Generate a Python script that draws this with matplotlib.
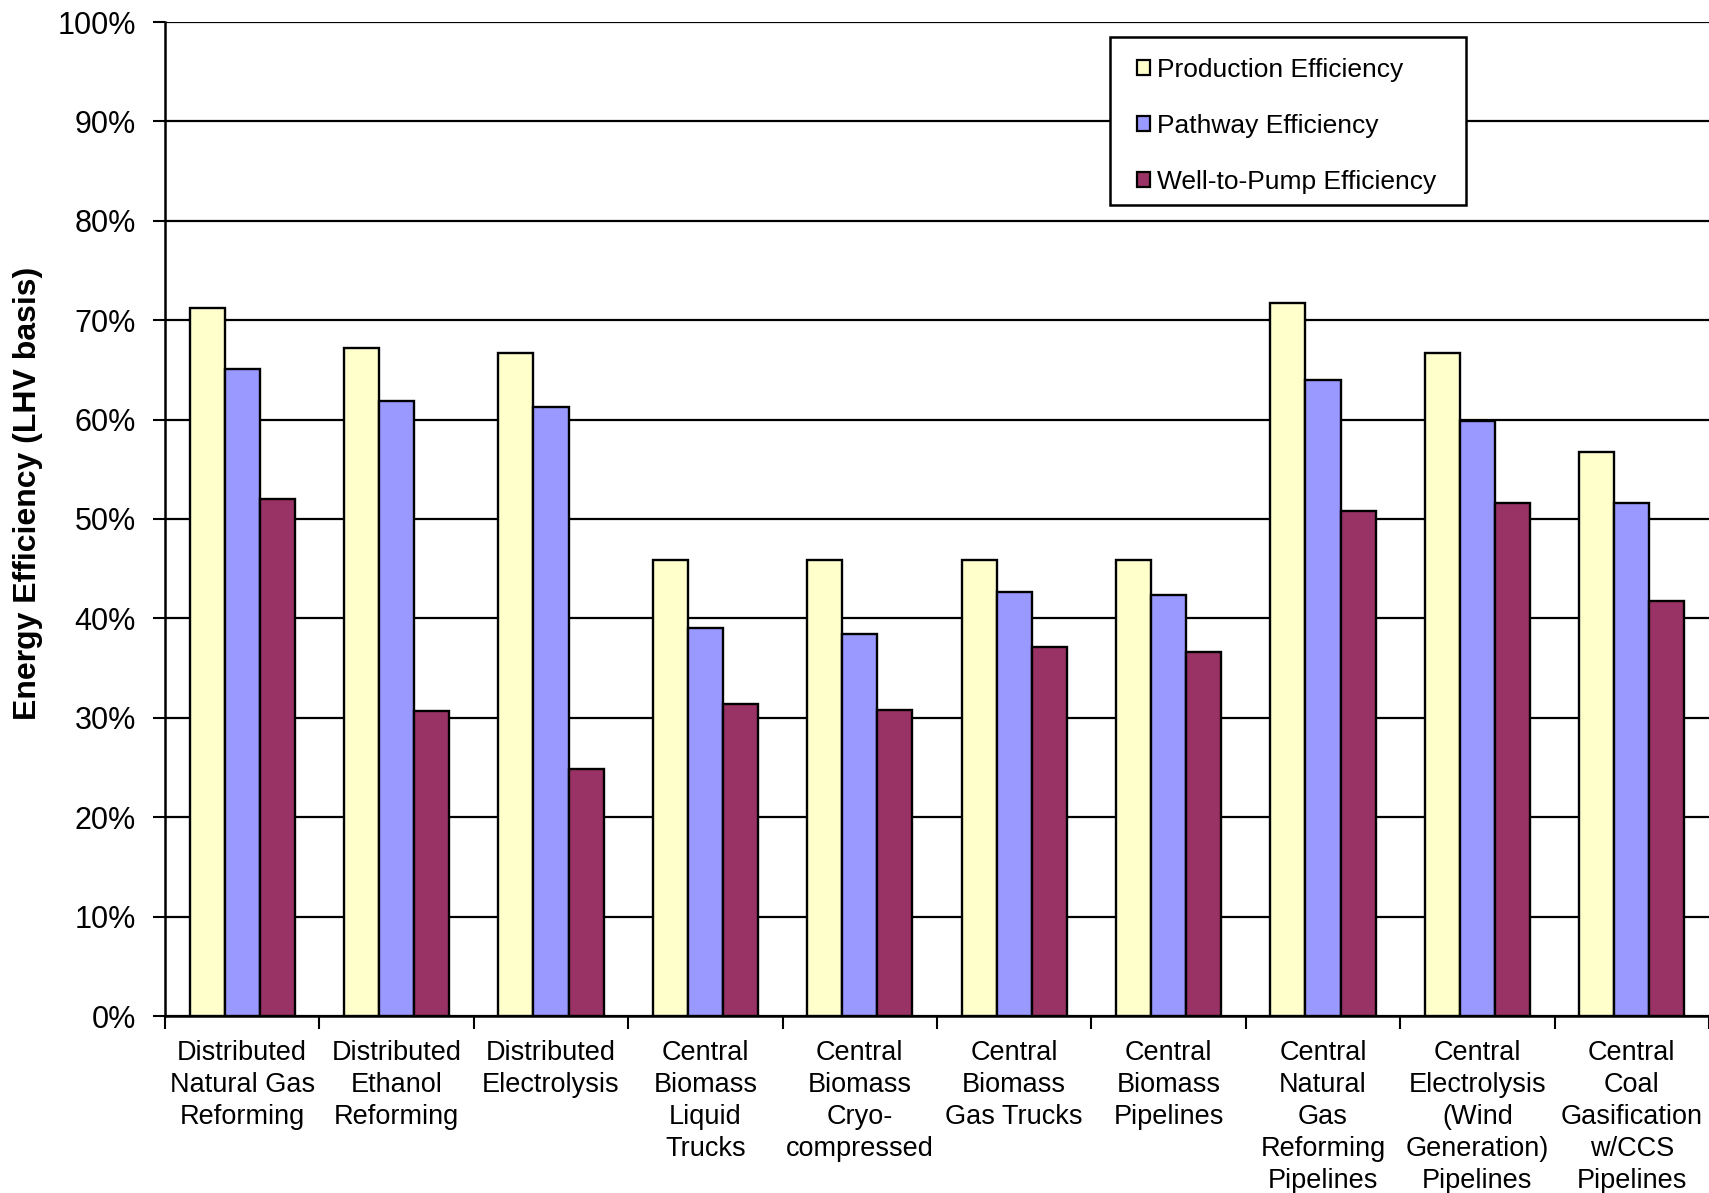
import matplotlib
matplotlib.use("Agg")
import matplotlib.pyplot as plt
import numpy as np
from matplotlib.patches import Rectangle
from matplotlib.ticker import MultipleLocator, FuncFormatter

plt.rcParams['font.family'] = ['Liberation Sans', 'DejaVu Sans']

categories = [
    "Distributed\nNatural Gas\nReforming",
    "Distributed\nEthanol\nReforming",
    "Distributed\nElectrolysis",
    "Central\nBiomass\nLiquid\nTrucks",
    "Central\nBiomass\nCryo-\ncompressed",
    "Central\nBiomass\nGas Trucks",
    "Central\nBiomass\nPipelines",
    "Central\nNatural\nGas\nReforming\nPipelines",
    "Central\nElectrolysis\n(Wind\nGeneration)\nPipelines",
    "Central\nCoal\nGasification\nw/CCS\nPipelines",
]

production_eff = [71.2, 67.2, 66.7, 45.9, 45.9, 45.9, 45.9, 71.7, 66.7, 56.7]
pathway_eff = [65.1, 61.9, 61.3, 39.0, 38.4, 42.7, 42.4, 64.0, 59.9, 51.6]
well_to_pump_eff = [52.0, 30.7, 24.8, 31.4, 30.8, 37.1, 36.6, 50.8, 51.6, 41.8]

series_names = ["Production Efficiency", "Pathway Efficiency", "Well-to-Pump Efficiency"]
series_colors = ["#FFFFCC", "#9999FF", "#993366"]

W, H = 1709, 1193
fig = plt.figure(figsize=(W / 100, H / 100), dpi=100)
ax = fig.add_axes([165 / W, (H - 1016) / H, (W - 165) / W, (1016 - 22) / H])

x = np.arange(len(categories))
bw = 0.227
for k, (vals, name, col) in enumerate(zip([production_eff, pathway_eff, well_to_pump_eff],
                                          series_names, series_colors)):
    ax.bar(x + (k - 1) * bw, vals, width=bw, color=col, edgecolor="black",
           linewidth=1.7, label=name, zorder=3)

ax.set_xlim(-0.5, len(categories) - 0.5)
ax.set_ylim(0, 100)

# y axis
ax.yaxis.set_major_locator(MultipleLocator(10))
ax.yaxis.set_major_formatter(FuncFormatter(lambda v, p: f"{int(round(v))}%"))
ax.tick_params(axis="y", which="major", length=9, width=1.5, pad=12, labelsize=22, color="black")
ax.grid(axis="y", color="black", linewidth=1.6, zorder=0)
ax.set_axisbelow(True)

# x axis: ticks at group boundaries, labels at group centres
ax.set_xticks(np.arange(len(categories) + 1) - 0.5)
ax.set_xticklabels([])
ax.tick_params(axis="x", which="major", length=9, width=1.5, direction="out")
ax.set_xticks(x, minor=True)
ax.set_xticklabels(categories, minor=True, fontsize=19.5, linespacing=1.3,
                   multialignment="center", va="top")
ax.tick_params(axis="x", which="minor", length=0, pad=17)

for side in ["top", "right"]:
    ax.spines[side].set_visible(False)
for side in ["left", "bottom"]:
    ax.spines[side].set_linewidth(1.8)
    ax.spines[side].set_color("black")
    ax.spines[side].set_zorder(4)

ax.set_ylabel("Energy Efficiency (LHV basis)", fontsize=23, fontweight="bold")
ax.yaxis.set_label_coords(-(165 - 43) / (W - 165), (1016 - 493) / (1016 - 22))

# legend: plain square box with the entries placed inside it
def px_to_fig(px, py):
    return px / W, 1 - py / H

bx0, by0 = px_to_fig(1110, 205)
bx1, by1 = px_to_fig(1466, 37)
frame = Rectangle((bx0, by0), bx1 - bx0, by1 - by0, transform=fig.transFigure,
                  facecolor="white", edgecolor="black", linewidth=1.8, zorder=5)
fig.patches.append(frame)

leg = fig.legend(*ax.get_legend_handles_labels(), loc="upper left",
                 bbox_to_anchor=px_to_fig(1137, 58),
                 fontsize=19, frameon=False,
                 handlelength=0.5, handleheight=0.5, handletextpad=0.25,
                 labelspacing=1.21, borderpad=0, borderaxespad=0)
leg.set_zorder(6)
for p in leg.get_patches():
    p.set_linewidth(1.6)

fig.savefig("out.png", dpi=100, facecolor="white")
